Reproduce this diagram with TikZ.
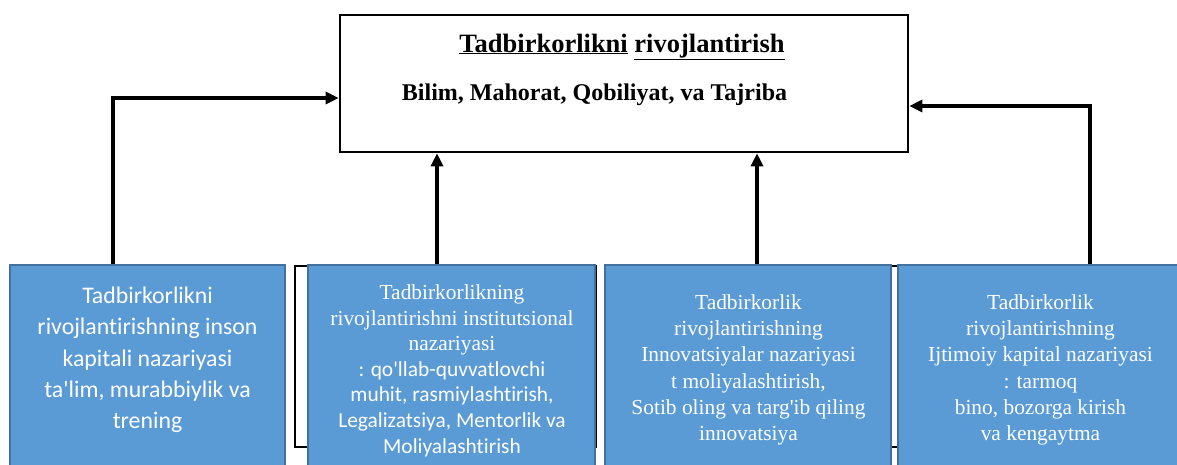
\documentclass[tikz,border=0pt]{standalone}
\usepackage{fontspec}
\setmainfont{Liberation Serif}
\newfontfamily\calfont[Ligatures=NoCommon]{Carlito}
\usetikzlibrary{arrows.meta}
\definecolor{boxblue}{HTML}{5B9BD5}
\definecolor{boxedge}{HTML}{41719C}
\newcommand{\apos}{\textquotesingle}
\tikzset{
  topbox/.style={draw=black, line width=2.6pt, fill=white, minimum width=568pt, minimum height=137pt, inner sep=0pt},
  bluebox/.style={draw=boxedge, line width=1.6pt, fill=boxblue, inner sep=0pt},
  txt/.style={text=white, align=center, inner sep=0pt},
  conn/.style={line width=3.2pt, -{Triangle[length=13pt,width=12pt]}},
  backrect/.style={draw=black, line width=2pt}
}
\begin{document}
\begin{tikzpicture}[x=1pt,y=-1pt]
\useasboundingbox (0,0) rectangle (1177,464);
\clip (0,0) rectangle (1177,464);
\fill[white] (0,0) rectangle (1177,464);
% top box
\node[topbox] (top) at (624,83.5) {};
\node[inner sep=0pt, anchor=base, font=\fontsize{26.5}{30}\selectfont\bfseries] (title) at (622,52) {\underline{Tadbirkorlikni} \underline{rivojlantirish}};
\node[inner sep=0pt, anchor=base, font=\fontsize{24}{28}\selectfont\bfseries] (sub) at (594.5,100) {Bilim, Mahorat, Qobiliyat, va Tajriba};
% partly hidden black frames
\draw[backrect] (295,266) rectangle (596,447);
\draw[backrect] (620,266) rectangle (905,447);
% blue boxes
\node[bluebox, minimum width=275pt, minimum height=210pt] (b1) at (147.5,370) {};
\node[bluebox, minimum width=287pt, minimum height=210pt] (b2) at (451.5,370) {};
\node[bluebox, minimum width=286pt, minimum height=210pt] (b3) at (748,370) {};
\node[bluebox, minimum width=285pt, minimum height=210pt] (b4) at (1040.5,370) {};
% texts
\node[txt, font=\calfont\fontsize{23.8}{31.3}\selectfont] (t1) at (147.5,360) {Tadbirkorlikni\\ rivojlantirishning inson\\ kapitali nazariyasi\\ ta\apos lim, murabbiylik va\\ trening};
\node[txt, font=\fontsize{21.4}{25.6}\selectfont] (t2) at (452,370.5) {Tadbirkorlikning\\ rivojlantirishni institutsional\\ nazariyasi\\ \calfont : qo\apos llab-quvvatlovchi\\ \calfont muhit, rasmiylashtirish,\\ \calfont Legalizatsiya, Mentorlik va\\ \calfont Moliyalashtirish};
\node[txt, font=\fontsize{21.4}{26.3}\selectfont] (t3) at (748.5,370) {Tadbirkorlik\\ rivojlantirishning\\ Innovatsiyalar nazariyasi\\ t moliyalashtirish,\\ Sotib oling va targ\apos ib qiling\\ innovatsiya};
\node[txt, font=\fontsize{21.4}{26.3}\selectfont] (t4) at (1040.5,370) {Tadbirkorlik\\ rivojlantirishning\\ Ijtimoiy kapital nazariyasi\\ : tarmoq\\ bino, bozorga kirish\\ va kengaytma};
% connectors
\draw[conn] ([xshift=-34.5pt]b1.north) |- ([yshift=-14.5pt]top.west);
\draw[conn] ([xshift=-14.5pt]b2.north) -- ([xshift=-14.5pt]b2.north |- top.south);
\draw[conn] ([xshift=9pt]b3.north) -- ([xshift=9pt]b3.north |- top.south);
\draw[conn] ([xshift=49.5pt]b4.north) |- ([yshift=-22.5pt]top.east);
\end{tikzpicture}
\end{document}
